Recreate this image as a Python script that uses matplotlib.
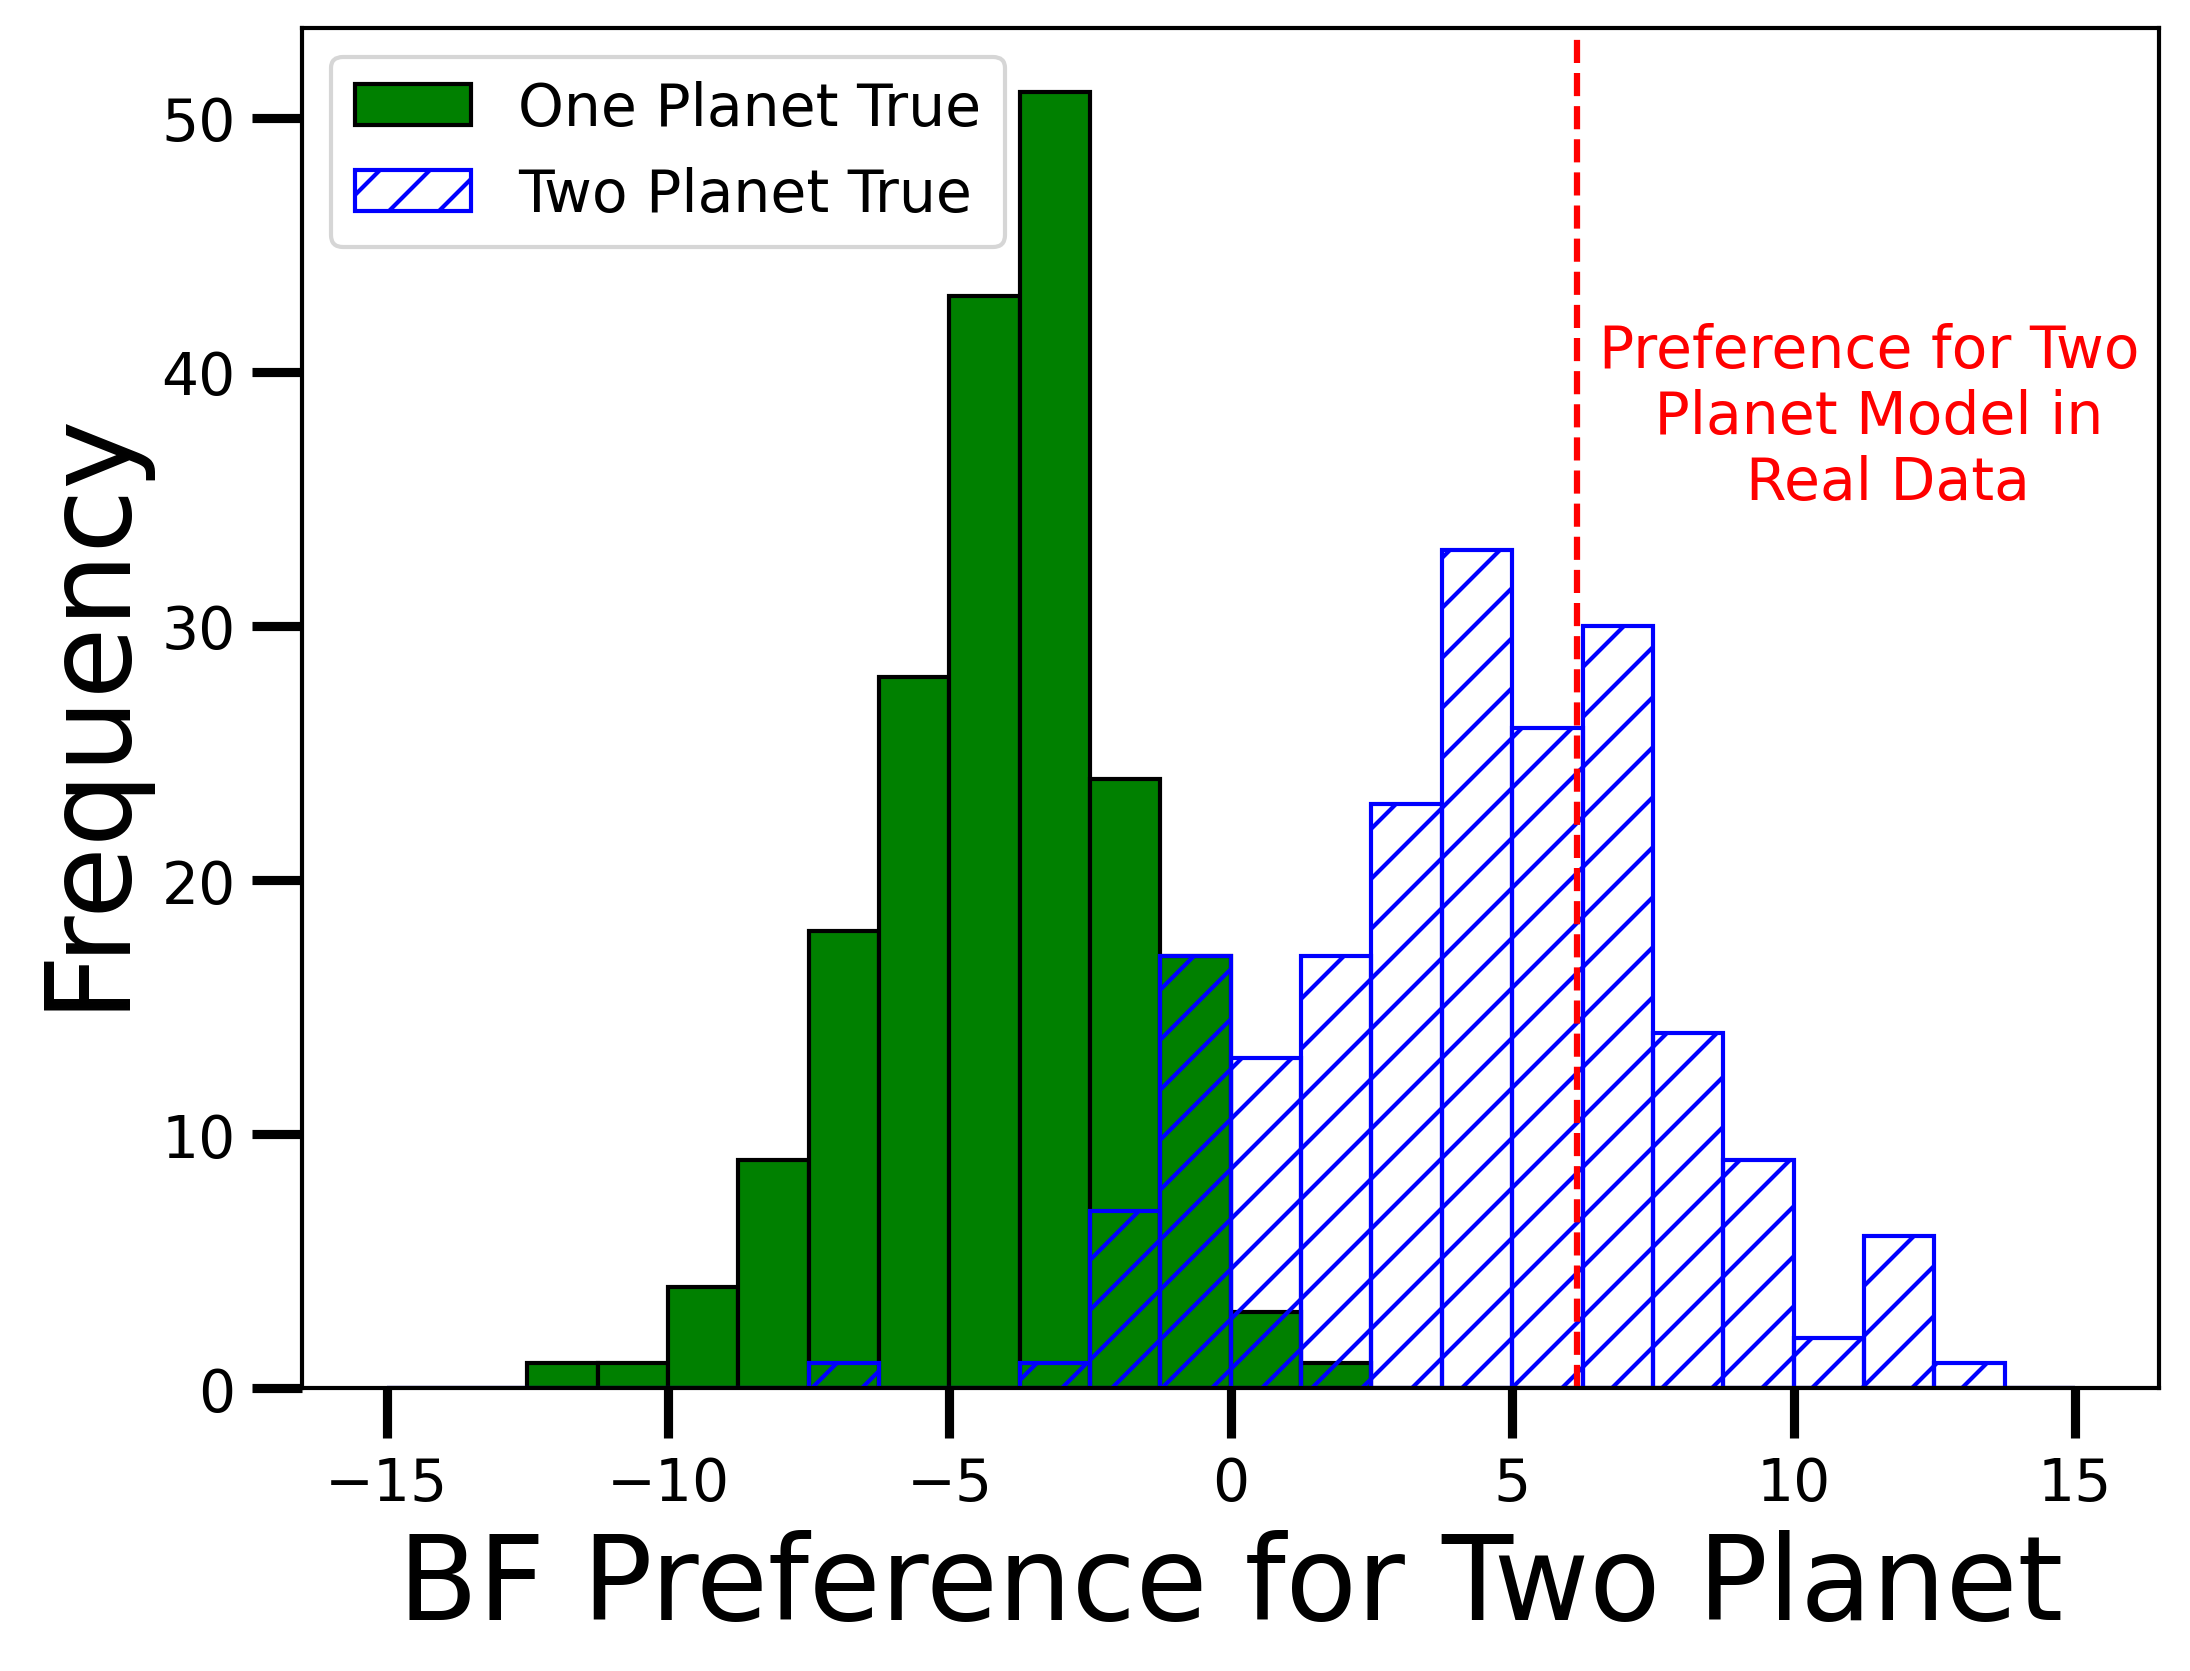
import numpy as np
import matplotlib
matplotlib.use("Agg")
import matplotlib.pyplot as plt

# histogram bins (width 1.25 from -15 to 15)
bin_edges = np.linspace(-15, 15, 25)

one_planet_counts = [0, 0, 1, 1, 4, 9, 18, 28, 43, 51, 24, 17,
                     3, 1, 0, 0, 0, 0, 0, 0, 0, 0, 0, 0]
two_planet_counts = [0, 0, 0, 0, 0, 0, 1, 0, 0, 1, 7, 17,
                     13, 17, 23, 33, 26, 30, 14, 9, 2, 6, 1, 0]

real_data_bf = 6.15

bin_centers = 0.5 * (bin_edges[:-1] + bin_edges[1:])

fig = plt.figure(figsize=(7.3, 5.573), dpi=300)
ax = fig.add_axes([0.138, 0.169, 0.848, 0.814])

ax.hist(bin_centers, bins=bin_edges, weights=one_planet_counts,
        color='green', edgecolor='black', linewidth=1.0, label='One Planet True')
ax.hist(bin_centers, bins=bin_edges, weights=two_planet_counts,
        fill=False, edgecolor='blue', hatch='//', linewidth=1.0, label='Two Planet True')

ax.axvline(real_data_bf, color='red', linestyle='--', linewidth=1.5)
ax.text(11.35, 38.25, "Preference for Two\n Planet Model in\n  Real Data",
        color='red', fontsize=14, ha='center', va='center', multialignment='center')

ax.set_xlabel('BF Preference for Two Planet', fontsize=28)
ax.set_ylabel('Frequency', fontsize=28)
ax.tick_params(axis='both', which='major', labelsize=14, length=12, width=2.2, pad=4)
for s in ax.spines.values():
    s.set_linewidth(1.0)

ax.legend(loc='upper left', fontsize=14)

fig.savefig('out.png', dpi=300)
